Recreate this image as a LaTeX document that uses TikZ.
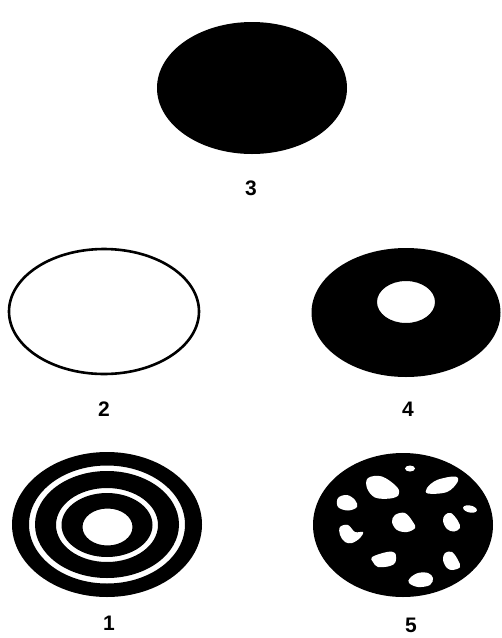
\documentclass[tikz,border=0pt]{standalone}
\usepackage{fontspec}
\setsansfont{Liberation Sans}
\usepackage{tikz}
\usetikzlibrary{calc,positioning}

\begin{document}
\begin{tikzpicture}[x=1pt,y=-1pt,
    disk/.style={fill=black},
    hole/.style={fill=white},
    numlabel/.style={font=\sffamily\bfseries\fontsize{21}{24}\selectfont, inner sep=0pt}]
    \useasboundingbox[fill=white] (0,0) rectangle (502,638);

    % 3: solid disk
    \fill[disk] (252,88) ellipse [x radius=95pt, y radius=66pt];

    % 2: outline only
    \draw[line width=2.6pt] (104,311.5) ellipse [x radius=95pt, y radius=62.5pt];

    % 4: disk with a central hole
    \fill[disk, even odd rule] (406,312.5) ellipse [x radius=94.5pt, y radius=64.5pt]
        (406,302) ellipse [x radius=29pt, y radius=21pt];

    % 1: concentric rings
    \fill[disk, even odd rule]
        (107,524.5) ellipse [x radius=95pt, y radius=72.5pt]
        (107,524.5) ellipse [x radius=78pt, y radius=59pt]
        (107,524.5) ellipse [x radius=72pt, y radius=53.5pt]
        (107,525)   ellipse [x radius=51pt, y radius=37pt]
        (107,525)   ellipse [x radius=45.5pt, y radius=32pt]
        (107.5,527) ellipse [x radius=25pt, y radius=18.5pt];

    % 5: disk with scattered holes
    \fill[disk] (403,525) ellipse [x radius=90pt, y radius=72pt];
    \fill[hole] (410,468.5) ellipse [x radius=5pt, y radius=3pt];
    \fill[hole, rotate around={-12:(470,509)}] (470,509) ellipse [x radius=7pt, y radius=3.5pt];
    \fill[hole] plot[smooth cycle, tension=0.6] coordinates
        {(368,478) (382,476.5) (397,487) (398.5,495) (390,498.5) (375,497.5) (367,488)};
    \fill[hole] plot[smooth cycle, tension=0.6] coordinates
        {(427,488) (437,480) (455,476.5) (457.5,482) (447,492) (428,493.5)};
    \fill[hole] plot[smooth cycle, tension=0.6] coordinates
        {(338,498) (347,495) (355,500) (357,507) (348,510.5) (338,507)};
    \fill[hole] plot[smooth cycle, tension=0.6] coordinates
        {(395,515) (405,513) (413,522) (415,528) (407,532) (397,530) (392,522)};
    \fill[hole] plot[smooth cycle, tension=0.6] coordinates
        {(445,515) (451,513) (458,521) (460,528) (454,531.5) (447,529) (443,521)};
    \fill[hole] plot[smooth cycle, tension=0.6] coordinates
        {(340,527) (348,525) (355,532) (363,532) (360,538) (352,543) (345,542) (340,535)};
    \fill[hole] plot[smooth cycle, tension=0.6] coordinates
        {(372,557) (387,552) (395,553) (395.5,562) (390,566) (378,567) (373,562)};
    \fill[hole] plot[smooth cycle, tension=0.6] coordinates
        {(445,553) (452,552) (458,560) (460,567) (453,570) (447,568) (443,560)};
    \fill[hole] plot[smooth cycle, tension=0.6] coordinates
        {(410,578) (418,573) (428,573) (433,578) (430,585) (418,587) (409,583)};

    % labels
    \node[numlabel] (lbl3) at (251,188) {3};
    \node[numlabel] (lbl2) at (104,409) {2};
    \node[numlabel] (lbl4) at (408,409) {4};
    \node[numlabel] (lbl1) at (109,623) {1};
    \node[numlabel] (lbl5) at (411,625) {5};
\end{tikzpicture}
\end{document}
